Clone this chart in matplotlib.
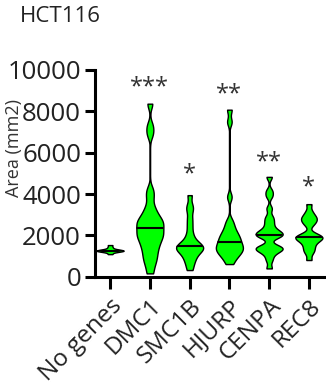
import matplotlib
matplotlib.use("Agg")
import matplotlib.pyplot as plt
import numpy as np

plt.rcParams['font.family'] = ['Open Sans', 'DejaVu Sans']

# cell areas per condition
groups = ["No genes", "DMC1", "SMC1B", "HJURP", "CENPA", "REC8"]
no_genes = [1090, 1200, 1230, 1250, 1255, 1260, 1268, 1290, 1330, 1420, 1530]
dmc1 = [160, 550, 800, 1000, 1200, 1400, 1550, 1700, 1850, 1950, 2050, 2150,
        2250, 2415, 2500, 2600, 2700, 2800, 2950, 3150, 3400, 3850, 4200,
        6900, 7300, 8370]
smc1b = [320, 600, 800, 950, 1100, 1200, 1280, 1350, 1400, 1450, 1500, 1580,
         1680, 1850, 2100, 2450, 2800, 3200, 3450, 3945]
hjurp = [610, 850, 1000, 1100, 1200, 1280, 1350, 1420, 1500, 1580, 1690,
         1780, 1880, 1980, 2100, 2250, 2450, 2700, 3860, 7490, 8080]
cenpa = [400, 800, 1050, 1220, 1290, 1340, 1390, 1440, 1500, 1900, 1960,
         2010, 2060, 2120, 2200, 2300, 2500, 2700, 2900, 3300, 3900, 4150, 4830]
rec8 = [805, 1150, 1300, 1450, 1600, 1720, 1800, 1870, 1900, 1930, 2000,
        2080, 2500, 2650, 2750, 2850, 2950, 3150, 3510]
bandwidth = [50, 250, 200, 200, 150, 150]
stars = ["", "***", "*", "**", "**", "*"]
star_y = [0, 9150, 4950, 8800, 5550, 4300]

data = [no_genes, dmc1, smc1b, hjurp, cenpa, rec8]

fig = plt.figure(figsize=(3.26, 3.88), dpi=100)
ax = fig.add_axes([0.2914, 0.2869, 0.7086, 0.5327])

for i, vals in enumerate(data):
    bw = bandwidth[i] / np.std(vals, ddof=1)
    parts = ax.violinplot([vals], positions=[i], widths=0.68, bw_method=bw,
                          showmedians=True, showextrema=True, points=300)
    body = parts['bodies'][0]
    body.set_facecolor('#00ff00')
    body.set_edgecolor('black')
    body.set_linewidth(1)
    body.set_alpha(1)
    parts['cmins'].set_visible(False)
    parts['cmaxes'].set_visible(False)
    parts['cbars'].set_color('black')
    parts['cbars'].set_linewidth(1)
    parts['cbars'].set_zorder(0.5)
    med = parts['cmedians']
    m = np.median(vals)
    med.set_segments([[[i - 0.4, m], [i + 0.4, m]]])
    med.set_color('black')
    med.set_linewidth(1.5)
    med.set_clip_path(body.get_paths()[0], body.get_transform())
    if stars[i]:
        ax.text(i, star_y[i], stars[i], ha='center', va='center',
                fontsize=17, color='#333333')

ax.set_xlim(-0.38, 5.43)
ax.set_ylim(0, 10000)
ax.set_yticks([0, 2000, 4000, 6000, 8000, 10000])
ax.set_xticks(range(len(groups)))
ax.set_xticklabels(groups, rotation=45, ha='right', rotation_mode='anchor')
for s in ['top', 'right']:
    ax.spines[s].set_visible(False)
for s in ['left', 'bottom']:
    ax.spines[s].set_linewidth(2.2)
ax.tick_params(axis='y', length=7, width=2.2, pad=3, labelsize=18.5,
               labelcolor='#222222')
ax.tick_params(axis='x', length=8.6, width=2.2, pad=4, labelsize=17.5,
               labelcolor='#222222')

fig.text(14 / 326, 1 - 148 / 388, "Area (mm2)", rotation=90, ha='center',
         va='center', fontsize=13, color='#333333')
fig.text(20 / 326, 1 - 17 / 388, "HCT116", ha='left', va='center',
         fontsize=16, color='#222222')

fig.savefig("out.png", dpi=100)
